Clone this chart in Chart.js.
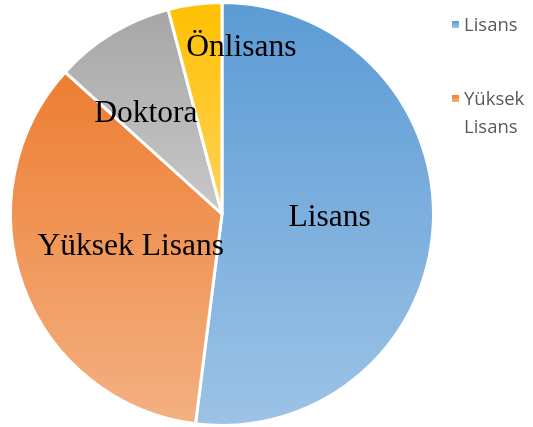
<!DOCTYPE html>
<html>
<head>
<meta charset="utf-8">
<script src="https://cdn.jsdelivr.net/npm/chart.js@4"></script>
<style>
  body { margin: 0; background: #fff; }
  #wrap { position: relative; width: 533px; height: 427px; overflow: hidden; }
  .leg { position: absolute; left: 452px; font-family: "Open Sans", sans-serif; font-size: 18.5px; color: #595959; line-height: 28px; }
  .leg i { position: absolute; left: 0; top: 11px; width: 7px; height: 7px; }
  .leg span { display: block; margin-left: 12px; }
</style>
</head>
<body>
<div id="wrap">
  <canvas id="pie" width="533" height="427"></canvas>
  <div class="leg" style="top:10px"><i style="background:linear-gradient(#5B9BD5,#9DC3E6)"></i><span>Lisans</span></div>
  <div class="leg" style="top:84px"><i style="background:linear-gradient(#ED7D31,#F4B183)"></i><span>Yüksek<br>Lisans</span></div>
</div>
<script>
const categories = ['Lisans', 'Yüksek Lisans', 'Doktora', 'Önlisans'];
const values = [52.0, 34.7, 9.2, 4.1];

// gradient stops per slice, top of pie -> bottom of pie
const gradStops = [
  [[0, '#5B9BD5'], [1, '#9DC3E6']],
  [[0, '#ED7D31'], [0.16, '#ED7D31'], [1, '#F4B183']],
  [[0, '#A5A5A5'], [0.5, '#C8C8C8'], [1, '#EBEBEB']],
  [[0, '#FFC000'], [0.5, '#FFD25C'], [1, '#FFE49E']]
];
// label placement: fraction of radius along mid-angle, extra x / y shift
const labelPos = [[0.51, 0, -3], [0.46, 0, -1], [0.62, -8, 12], [0.80, 41, 2]];

const sliceLabels = {
  id: 'sliceLabels',
  afterDatasetsDraw(chart) {
    const c = chart.ctx;
    const arcs = chart.getDatasetMeta(0).data;
    c.save();
    c.font = '31.5px "Liberation Serif", "Times New Roman", serif';
    c.fillStyle = '#000';
    c.textAlign = 'center';
    c.textBaseline = 'middle';
    arcs.forEach((a, i) => {
      const p = a.getProps(['x', 'y', 'startAngle', 'endAngle', 'outerRadius'], true);
      const mid = (p.startAngle + p.endAngle) / 2;
      const r = p.outerRadius * labelPos[i][0];
      c.fillText(categories[i], p.x + Math.cos(mid) * r + labelPos[i][1], p.y + Math.sin(mid) * r + labelPos[i][2]);
    });
    c.restore();
  }
};

new Chart(document.getElementById('pie'), {
  type: 'pie',
  data: {
    labels: categories,
    datasets: [{
      data: values,
      backgroundColor: (ctx) => {
        const area = ctx.chart.chartArea;
        if (!area) return '#ccc';
        const g = ctx.chart.ctx.createLinearGradient(0, area.top, 0, area.bottom);
        gradStops[ctx.dataIndex].forEach(s => g.addColorStop(s[0], s[1]));
        return g;
      },
      borderColor: '#ffffff',
      borderWidth: 3
    }]
  },
  options: {
    responsive: false,
    animation: false,
    layout: { padding: { left: 7.5, right: 96.5, top: 1, bottom: -2 } },
    plugins: {
      legend: { display: false },
      tooltip: { enabled: false }
    }
  },
  plugins: [sliceLabels]
});
</script>
</body>
</html>
